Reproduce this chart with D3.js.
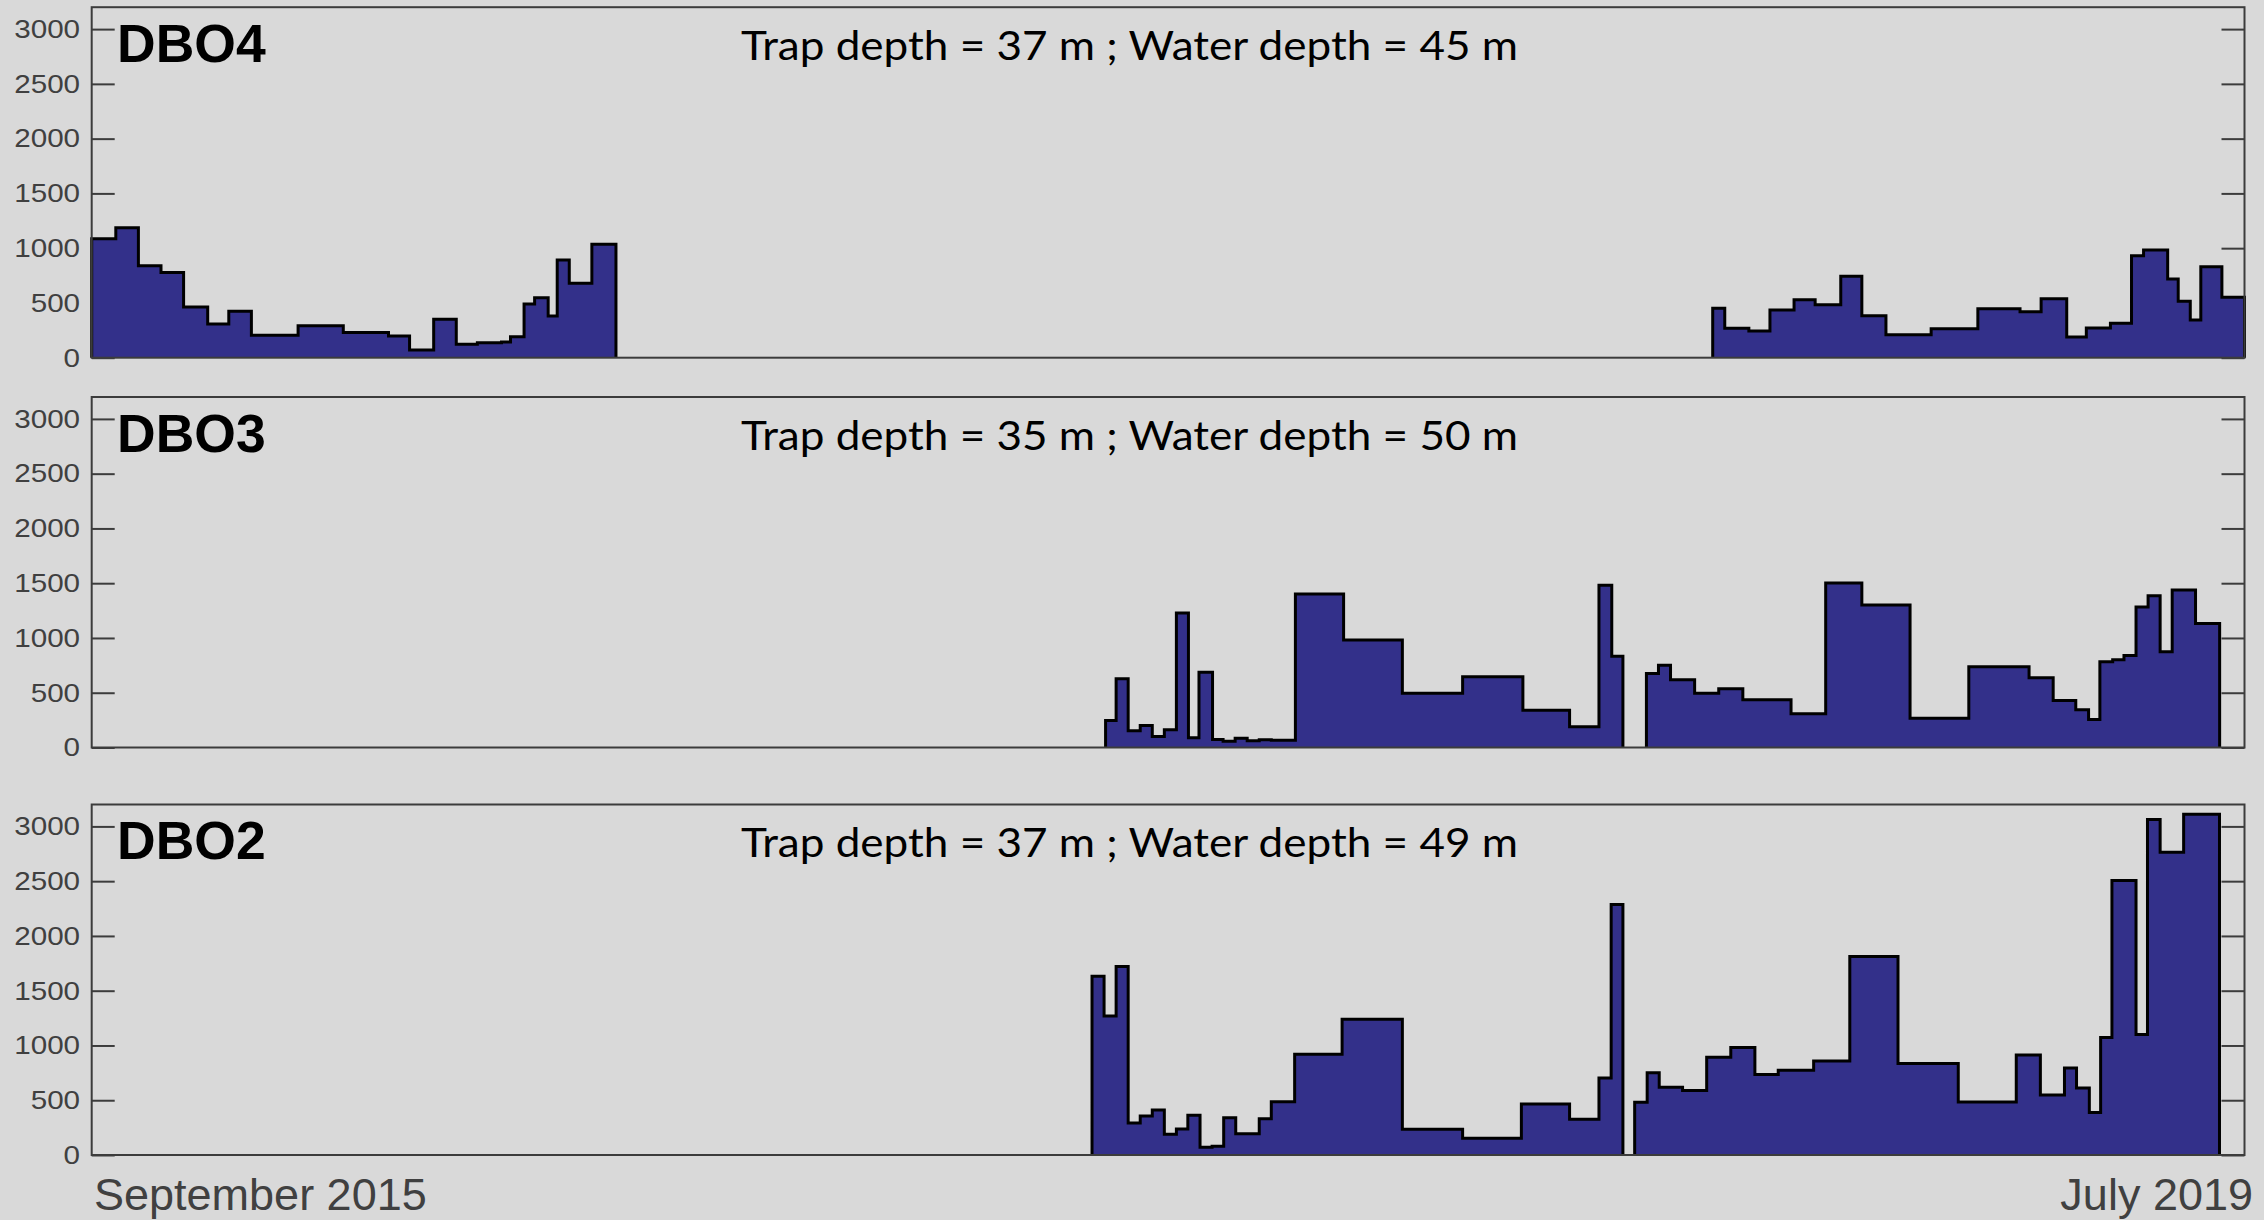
<!DOCTYPE html>
<html><head><meta charset="utf-8">
<script src="https://cdn.jsdelivr.net/npm/d3@7"></script>
<style>html,body{margin:0;padding:0;background:#d9d9d9;} svg{display:block}</style>
</head><body><svg id="chart" width="2264" height="1220"></svg>
<script>
// ---- data ----
const startDate = new Date(Date.UTC(2015, 8, 1));
const endDate = new Date(Date.UTC(2019, 6, 31));
const stations = ["DBO4", "DBO3", "DBO2"];
const trapDepths = [37, 35, 37];
const waterDepths = [45, 50, 49];
const yTicks = [0, 500, 1000, 1500, 2000, 2500, 3000];
const xLabels = ["September 2015", "July 2019"];

// bin edges in days since 1 September 2015; one flux value per bin (0 = no data)
const dbo4Days = [0, 16, 31, 46, 61, 77, 91, 106, 137, 167, 197, 211, 227, 242, 256, 272, 278, 287, 294, 303, 309, 317, 332, 348,
  1076, 1084, 1100, 1114, 1130, 1144, 1161, 1175, 1191, 1221, 1252, 1280, 1294, 1311, 1324, 1340, 1354, 1362, 1378, 1385, 1393, 1400, 1414, 1429];
const dbo4Flux = [1086, 1186, 840, 779, 463, 307, 423, 204, 292, 231, 198, 70, 350, 122, 137, 143, 192, 490, 548, 381, 892, 679, 1035,
  0,
  451, 268, 244, 435, 529, 484, 743, 383, 210, 265, 447, 420, 538, 189, 271, 314, 931, 983, 718, 515, 344, 830, 551];

const dbo3Days = [673, 680, 688, 696, 704, 712, 720, 728, 735, 744, 751, 759, 767, 775, 783, 799, 831, 870, 910, 950, 981, 1000.5, 1009, 1016.4,
  1032, 1040, 1048, 1064, 1080, 1096, 1128, 1151, 1175, 1207, 1246, 1286, 1302, 1317, 1325.5, 1333, 1341.5, 1349, 1357, 1365, 1373, 1381, 1396.5, 1412.5];
const dbo3Flux = [247, 628, 152, 201, 101, 161, 1228, 88, 686, 73, 58, 85, 61, 70, 67, 1401, 981, 496, 646, 341, 189, 1481, 832,
  0,
  676, 750, 619, 496, 536, 436, 308, 1502, 1301, 268, 737, 637, 430, 345, 256, 783, 801, 841, 1283, 1386, 875, 1438, 1131];

const dbo2Days = [664, 672, 680, 688, 696, 704, 712, 720, 727.6, 735.7, 743.7, 751.4, 759.4, 775, 783, 798.5, 830, 870, 910, 949, 981, 1000.5, 1008.6, 1016.4,
  1024.2, 1032.5, 1040.5, 1056, 1072, 1088, 1104, 1119.5, 1143, 1167, 1199, 1239, 1277.5, 1293.5, 1309.5, 1317.5, 1326, 1333.5, 1341, 1357, 1364.6, 1373, 1388.6, 1412.4];
const dbo2Flux = [1633, 1268, 1721, 293, 356, 411, 189, 238, 363, 70, 79, 341, 195, 332, 487, 920, 1240, 235, 153, 466, 326, 704, 2288,
  0,
  482, 750, 619, 588, 893, 981, 734, 774, 859, 1813, 835, 484, 914, 548, 795, 612, 387, 1072, 2507, 1100, 3062, 2763, 3111];

const seriesDays = [dbo4Days, dbo3Days, dbo2Days];
const seriesFlux = [dbo4Flux, dbo3Flux, dbo2Flux];

// ---- layout ----
const left = 91.7, right = 2244.5;
const baselines = [357.7, 747.5, 1155];
const plotH = 350.5;
const frameColor = "#3c3c3c";
const textGray = "#404040";
const fillColor = "#33308a";

const svg = d3.select("#chart");
svg.append("rect").attr("width", 2264).attr("height", 1220).attr("fill", "#d9d9d9");

const x = d3.scaleUtc().domain([startDate, endDate]).range([left, right]);
const dayToDate = d => new Date(startDate.getTime() + d * 864e5);

stations.forEach((name, i) => {
  const base = baselines[i];
  const top = base - plotH;
  const y = d3.scaleLinear().domain([0, 3200]).range([base, top]);
  const g = svg.append("g");

  // ticks (left with labels, right without)
  const la = g.append("g").attr("transform", `translate(${left},0)`)
    .call(d3.axisLeft(y).tickValues(yTicks).tickSize(-23).tickPadding(10.2).tickFormat(d3.format("d")));
  const ra = g.append("g").attr("transform", `translate(${right},0)`)
    .call(d3.axisRight(y).tickValues(yTicks).tickSize(-23).tickFormat(""));
  [la, ra].forEach(a => {
    a.select(".domain").remove();
    a.selectAll(".tick line").attr("stroke", frameColor).attr("stroke-width", 2);
  });
  la.selectAll(".tick text")
    .attr("fill", textGray)
    .attr("font-family", "'Liberation Sans', Arial, sans-serif")
    .attr("font-size", 26)
    .attr("transform", "scale(1.14,1)");

  // contiguous runs of non-zero bins
  const days = seriesDays[i], flux = seriesFlux[i];
  const runs = [];
  let cur = null;
  flux.forEach((v, k) => {
    if (v > 0) {
      if (!cur) { cur = []; runs.push(cur); }
      cur.push({ s: days[k], e: days[k + 1], v });
    } else cur = null;
  });

  const area = d3.area().curve(d3.curveStepAfter)
    .x(p => x(dayToDate(p[0]))).y0(y(0)).y1(p => y(p[1]));
  const line = d3.line().curve(d3.curveStepAfter)
    .x(p => x(dayToDate(p[0]))).y(p => y(p[1]));
  runs.forEach(run => {
    const pts = [[run[0].s, 0]];
    run.forEach(b => pts.push([b.s, b.v]));
    const last = run[run.length - 1];
    pts.push([last.e, last.v]);
    pts.push([last.e, 0]);
    g.append("path").datum(pts).attr("d", area).attr("fill", fillColor);
    g.append("path").datum(pts).attr("d", line).attr("fill", "none")
      .attr("stroke", "#000").attr("stroke-width", 3).attr("stroke-linejoin", "miter");
  });

  // frame
  g.append("rect").attr("x", left).attr("y", top).attr("width", right - left).attr("height", plotH)
    .attr("fill", "none").attr("stroke", frameColor).attr("stroke-width", 2);

  // labels
  g.append("text").attr("x", 117).attr("y", top + 54.5)
    .attr("font-family", "'Liberation Sans', Arial, sans-serif").attr("font-weight", "bold")
    .attr("font-size", 53.5).attr("fill", "#000").text(name);
  g.append("text").attr("x", 741).attr("y", top + 52.5)
    .attr("font-family", "Lato, 'Open Sans', sans-serif")
    .attr("font-size", 41).attr("fill", "#000")
    .attr("textLength", 777).attr("lengthAdjust", "spacingAndGlyphs")
    .text(`Trap depth = ${trapDepths[i]} m ; Water depth = ${waterDepths[i]} m`);
});

// bottom date labels
svg.append("text").attr("x", 94).attr("y", 1210)
  .attr("font-family", "'Liberation Sans', Arial, sans-serif").attr("font-size", 45)
  .attr("fill", textGray).text(xLabels[0]);
svg.append("text").attr("x", 2253).attr("y", 1210).attr("text-anchor", "end")
  .attr("font-family", "'Liberation Sans', Arial, sans-serif").attr("font-size", 45)
  .attr("fill", textGray).text(xLabels[1]);
</script>
</body></html>
